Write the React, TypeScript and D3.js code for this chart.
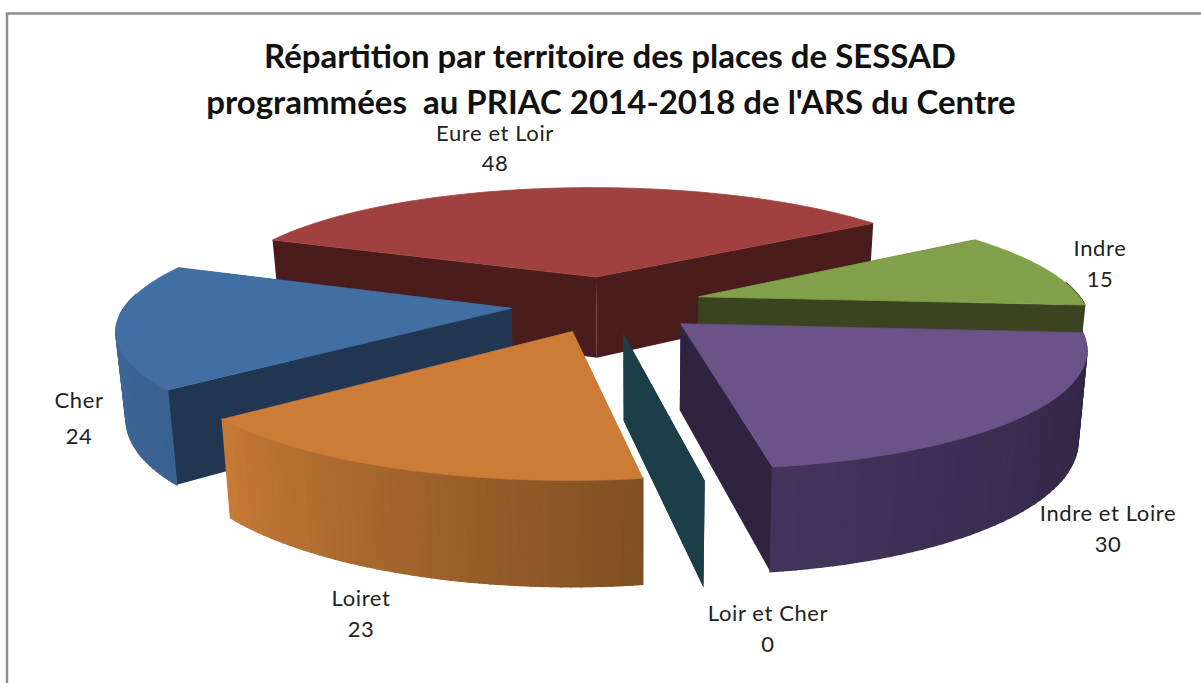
import * as d3 from 'd3';
import React from 'react';

const territories = ['Cher', 'Eure et Loir', 'Indre', 'Indre et Loire', 'Loir et Cher', 'Loiret'];
const places = [24, 48, 15, 30, 0, 23];
const titleLines = ['Répartition par territoire des places de SESSAD', "programmées  au PRIAC 2014-2018 de l'ARS du Centre"];

const topColors = ['#416ea3', '#a0413f', '#82a04a', '#6b5389', '#1b3e48', '#cd7c38'];
const wallColors = ['#213751', '#4a1c1b', '#3a4420', '#2e2440', '#1b3e48', '#7f4f22'];
// outer wall colour at the start and at the end of each slice
const outerColors = [['#3a6290', '#416ea3'], ['#4a1c1b', '#4a1c1b'], ['#3a4420', '#3a4420'], ['#2e2440', '#44345c'], ['#1b3e48', '#1b3e48'], ['#7f4f22', '#c67a36']];
const labelX = [79, 495, 1100, 1108, 768, 361];
const labelY = [408, 141, 256, 521, 621, 606];
const labelGap = [36, 30, 31, 31, 31, 31];

const params = {
  width: 1201,
  height: 683,
  centerX: 607,
  centerY: 304,
  vanishX: 640,
  scale: 385,
  tilt: 113,
  perspective: 0.17,
  thickness: 84,
  converge: 0.02,
  shear: 5,
  explode: 0.25,
  firstAngle: (230.5 * Math.PI) / 180,
  steps: 48,
};

// ground plane (x right, y to the back, z 0 on top and 1 at the bottom) to screen
const project = (x: number, y: number, z: number): [number, number] => {
  const w = 1 + params.perspective * y;
  const sx = params.centerX + (params.scale * x) / w - params.shear * y;
  return [
    params.vanishX + (sx - params.vanishX) / (1 + params.converge * z),
    params.centerY + (-params.tilt * y + params.thickness * z) / w,
  ];
};

const line = d3.line().curve(d3.curveLinear);

export default function App() {
  const arcs = d3.pie<number>().sort(null).startAngle(params.firstAngle).endAngle(params.firstAngle + 2 * Math.PI)(places);

  const slice = (i: number) => {
    const a = arcs[i];
    const mid = (a.startAngle + a.endAngle) / 2;
    const ox = params.explode * Math.sin(mid);
    const oy = params.explode * Math.cos(mid);
    const angle = d3.scaleLinear().domain([0, params.steps]).range([a.startAngle, a.endAngle]);
    const rim = d3.range(params.steps + 1).map(k => angle(k));
    const pt = (t: number, z: number) => project(ox + Math.sin(t), oy + Math.cos(t), z);
    const apex = (z: number) => project(ox, oy, z);
    const color = d3.scaleLinear<string>().domain([a.startAngle, a.endAngle]).range(outerColors[i]).interpolate(d3.interpolateRgb);

    const top = [apex(0), ...rim.map(t => pt(t, 0))];
    const wall = (t: number) => [apex(0), pt(t, 0), pt(t, 1), apex(1)];
    // only the part of the rim that faces the viewer, the most turned away first
    const strips = rim.slice(1).map((t, k) => ({
      t,
      mid: (rim[k] + t) / 2,
      d: [pt(rim[k], 0), pt(t, 0), pt(t, 1), pt(rim[k], 1)],
    })).filter(s => Math.cos(s.mid) < 0.12).sort((p, q) => Math.cos(q.mid) - Math.cos(p.mid));

    return (
      <g key={territories[i]}>
        <path d={line(wall(a.endAngle) as any) + 'Z'} fill={wallColors[i]} />
        <path d={line(wall(a.startAngle) as any) + 'Z'} fill={wallColors[i]} />
        {a.endAngle > a.startAngle && strips.map((s, k) => {
          const c = color(s.mid);
          return <path key={k} d={line(s.d as any) + 'Z'} fill={c} stroke={c} strokeWidth={1.6} />;
        })}
        {a.endAngle > a.startAngle && <path d={line(top as any) + 'Z'} fill={topColors[i]} stroke={topColors[i]} strokeWidth={0.8} />}
      </g>
    );
  };

  // back to front
  const drawOrder = [1, 2, 0, 3, 5, 4];

  return (
    <svg width={params.width} height={params.height} style={{ position: 'absolute', left: 0, top: 0, background: '#fff' }}>
      <path d={`M7,${params.height}V13.5H${params.width}`} fill="none" stroke="#8f8f8f" strokeWidth={2.5} />
      <g fontFamily="Lato, sans-serif" fontWeight={700} fontSize={33} textAnchor="middle" fill="#111">
        {titleLines.map((t, i) => (
          <text key={i} x={i ? 611 : 610} y={68 + i * 46} xmlSpace="preserve">{t}</text>
        ))}
      </g>
      {drawOrder.map(slice)}
      <g fontFamily="Lato, sans-serif" fontSize={22} letterSpacing={0.6} textAnchor="middle" fill="#222">
        {territories.map((t, i) => (
          <g key={t}>
            <text x={labelX[i]} y={labelY[i]}>{t}</text>
            <text x={labelX[i]} y={labelY[i] + labelGap[i]}>{places[i]}</text>
          </g>
        ))}
      </g>
    </svg>
  );
}
